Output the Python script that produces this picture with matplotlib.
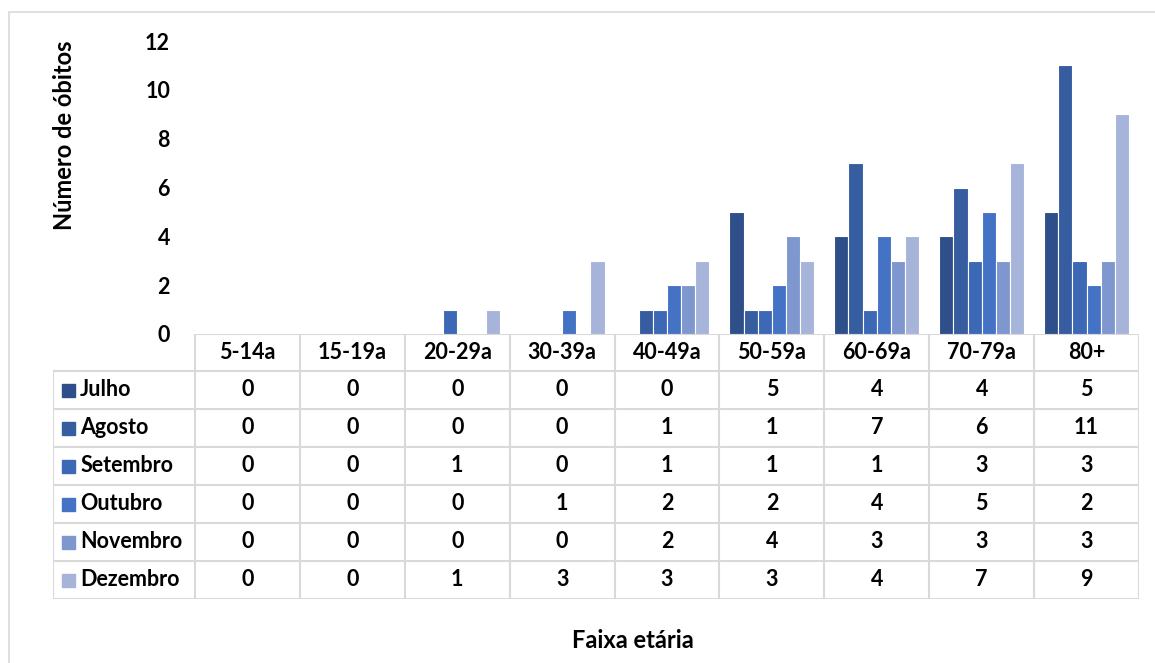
import matplotlib.pyplot as plt
from matplotlib.patches import Rectangle
import numpy as np

plt.rcParams["font.family"] = ["Lato", "DejaVu Sans"]
plt.rcParams["font.weight"] = "bold"

faixas = ["5-14a", "15-19a", "20-29a", "30-39a", "40-49a", "50-59a", "60-69a", "70-79a", "80+"]
meses = ["Julho", "Agosto", "Setembro", "Outubro", "Novembro", "Dezembro"]
julho = [0, 0, 0, 0, 0, 5, 4, 4, 5]
agosto = [0, 0, 0, 0, 1, 1, 7, 6, 11]
setembro = [0, 0, 1, 0, 1, 1, 1, 3, 3]
outubro = [0, 0, 0, 1, 2, 2, 4, 5, 2]
novembro = [0, 0, 0, 0, 2, 4, 3, 3, 3]
dezembro = [0, 0, 1, 3, 3, 3, 4, 7, 9]
series = [julho, agosto, setembro, outubro, novembro, dezembro]
cores = ["#2F4F8A", "#365D9F", "#3C68B5", "#4472C4", "#7F97CF", "#A7B4DA"]
grade = "#D9D9D9"
fs = 15.5

W, H = 1155, 663
fig = plt.figure(figsize=(W / 100, H / 100), dpi=100)

# outer chart border
fig.patches.append(Rectangle((9 / W, -0.01), 1.0, 1 - 12 / H + 0.01, transform=fig.transFigure,
                             fill=False, edgecolor=grade, linewidth=1.2))

# bar area: columns aligned with the table columns
x0, x1 = 195 / W, 1139 / W
y0, y1 = 1 - 334 / H, 1 - 41 / H
ax = fig.add_axes([x0, y0, x1 - x0, y1 - y0])
n = len(faixas)
x = np.arange(n) + 0.5
bw = 0.135
for i, (vals, cor) in enumerate(zip(series, cores)):
    ax.bar(x + (i - 2.5) * bw, vals, width=bw, color=cor, edgecolor="white", linewidth=0.8)
ax.set_xlim(0, n)
ax.set_ylim(0, 12)
ax.set_yticks(range(0, 13, 2))
ax.set_xticks([])
ax.tick_params(axis="y", length=0, pad=18, labelsize=fs)
for s in ax.spines.values():
    s.set_visible(False)

# data table below the bars
ty0 = 1 - 599 / H
ax_t = fig.add_axes([53 / W, ty0, x1 - 53 / W, y0 - ty0])
lab_w = (195 - 53) / ((1139 - 195) / n)
ax_t.set_xlim(-lab_w, n)
ax_t.set_ylim(0, 599 - 334)
ax_t.axis("off")
head_h = 371 - 334
row_h = 38
top = 599 - 334

# header row
ax_t.plot([0, n], [top, top], color=grade, lw=1.5)
for j in range(n + 1):
    ax_t.plot([j, j], [0, top], color=grade, lw=1.5)
for j, f in enumerate(faixas):
    ax_t.text(j + 0.5, top - head_h / 2, f, ha="center", va="center", fontsize=fs)

# body rows
ax_t.plot([-lab_w, -lab_w], [0, top - head_h], color=grade, lw=1.5)
for r in range(len(meses) + 1):
    yy = top - head_h - r * row_h
    ax_t.plot([-lab_w, n], [yy, yy], color=grade, lw=1.5)
for r, (mes, vals, cor) in enumerate(zip(meses, series, cores)):
    yc = top - head_h - (r + 0.5) * row_h
    ax_t.add_patch(Rectangle((-lab_w + 0.085, yc - 6.5), 0.125, 13, color=cor))
    ax_t.text(-lab_w + 0.26, yc, mes, ha="left", va="center", fontsize=fs)
    for j, v in enumerate(vals):
        ax_t.text(j + 0.5, yc, str(v), ha="center", va="center", fontsize=fs)

fig.text(65 / W, 1 - 135 / H, "Número de óbitos", rotation=90, ha="center", va="center", fontsize=17)
fig.text(633 / W, 1 - 640 / H, "Faixa etária", ha="center", va="center", fontsize=17)

fig.savefig("out.png", dpi=100)
